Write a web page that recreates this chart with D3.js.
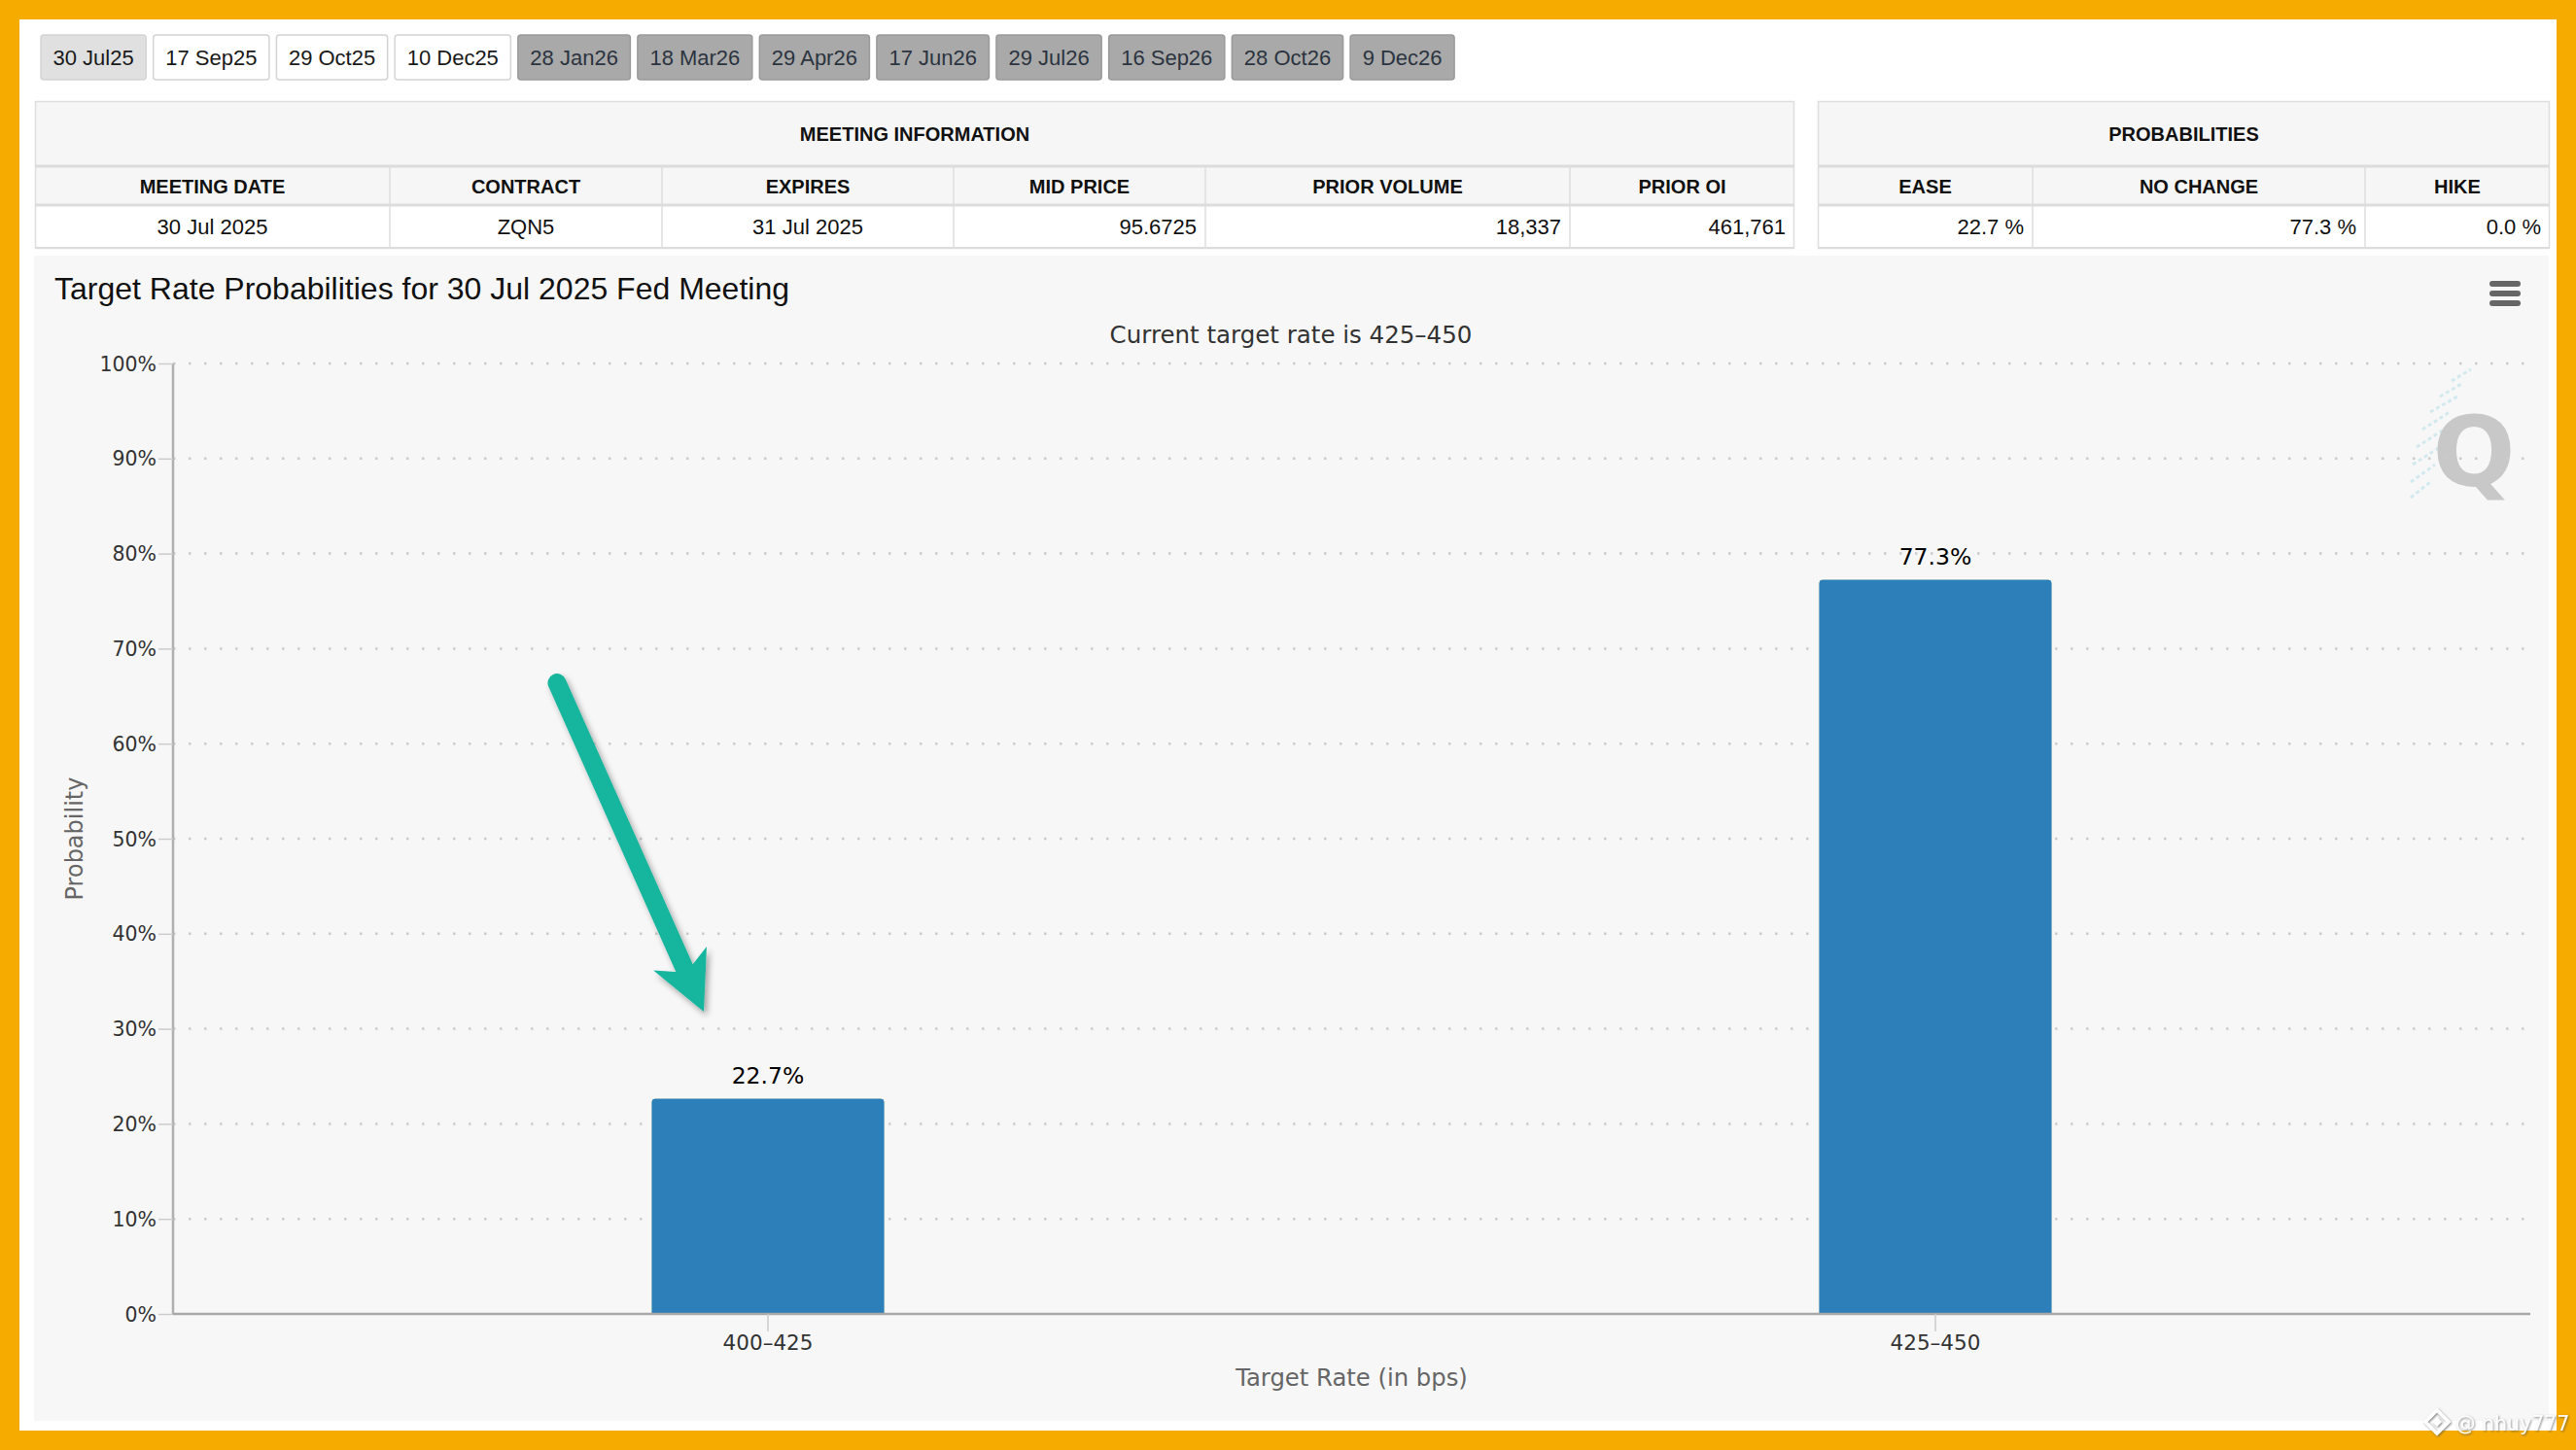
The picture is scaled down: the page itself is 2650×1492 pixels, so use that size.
<!DOCTYPE html>
<html>
<head>
<meta charset="utf-8">
<script src="https://cdn.jsdelivr.net/npm/d3@7/dist/d3.min.js"></script>
<style>
  html, body { margin: 0; padding: 0; background: #f6ab00; }
  svg { display: block; }
</style>
</head>
<body>
<svg id="chart" width="2650" height="1492"></svg>
<script>
// ---------------- DATA ----------------
const meetingDates = ["30 Jul25","17 Sep25","29 Oct25","10 Dec25","28 Jan26","18 Mar26","29 Apr26","17 Jun26","29 Jul26","16 Sep26","28 Oct26","9 Dec26"];
const meetingDateState = ["selected","normal","normal","normal","dim","dim","dim","dim","dim","dim","dim","dim"];
const meetingHeaders = ["MEETING DATE","CONTRACT","EXPIRES","MID PRICE","PRIOR VOLUME","PRIOR OI"];
const meetingValues = ["30 Jul 2025","ZQN5","31 Jul 2025","95.6725","18,337","461,761"];
const meetingAlign = ["middle","middle","middle","end","end","end"];
const probHeaders = ["EASE","NO CHANGE","HIKE"];
const probValues = ["22.7 %","77.3 %","0.0 %"];
const categories = ["400–425","425–450"];
const probabilities = [22.7, 77.3];
const yTickValues = [0,10,20,30,40,50,60,70,80,90,100];
const chartTitle = "Target Rate Probabilities for 30 Jul 2025 Fed Meeting";
const chartSubtitle = "Current target rate is 425–450";
const xAxisTitle = "Target Rate (in bps)";
const yAxisTitle = "Probability";
const watermarkText = "@ nhuy777";

// ---------------- LAYOUT ----------------
const W = 2650, H = 1492;
const svg = d3.select("#chart");
const ARIAL = "'Liberation Sans', Arial, Helvetica, sans-serif";
const LUCIDA = "'DejaVu Sans', Verdana, sans-serif";

const defs = svg.append("defs");
const sh = defs.append("filter").attr("id","shadow").attr("x","-30%").attr("y","-30%").attr("width","160%").attr("height","160%");
sh.append("feDropShadow").attr("dx",3).attr("dy",4).attr("stdDeviation",3).attr("flood-color","#000").attr("flood-opacity",0.35);
const sh2 = defs.append("filter").attr("id","wmshadow");
sh2.append("feDropShadow").attr("dx",1).attr("dy",1).attr("stdDeviation",0.8).attr("flood-color","#444").attr("flood-opacity",0.7);

// page
svg.append("rect").attr("x",0).attr("y",0).attr("width",W).attr("height",H).attr("fill","#f6ab00");
svg.append("rect").attr("x",20).attr("y",20).attr("width",2610).attr("height",1452).attr("fill","#ffffff");

// ---------------- DATE BUTTONS ----------------
const btnG = svg.append("g");
let bx = 42;
const btnY = 36, btnH = 46;
meetingDates.forEach((d,i) => {
  const st = meetingDateState[i];
  const g = btnG.append("g");
  const t = g.append("text").text(d)
    .attr("font-family",ARIAL).attr("font-size",22)
    .attr("fill", st==="dim" ? "#2b3440" : "#1a1a1a")
    .attr("y", btnY + btnH/2 + 8);
  const tw = t.node().getComputedTextLength();
  const bw = tw + 25;
  g.insert("rect","text")
    .attr("x",bx).attr("y",btnY).attr("width",bw).attr("height",btnH).attr("rx",3)
    .attr("fill", st==="selected" ? "#e0e0e0" : (st==="dim" ? "#a9a9a9" : "#ffffff"))
    .attr("stroke", st==="dim" ? "#9a9a9a" : "#d4d4d4").attr("stroke-width",1.5);
  t.attr("x", bx + 12.5);
  bx += bw + 7.5;
});

// ---------------- TABLES ----------------
function drawTable(x0, cols, title, headers, values, aligns){
  const g = svg.append("g");
  const x1 = cols[cols.length-1];
  const yTop = 104, yHead = 171, yData = 211, yBot = 256;
  g.append("rect").attr("x",x0).attr("y",yTop).attr("width",x1-x0).attr("height",yHead-yTop).attr("fill","#f6f6f6");
  g.append("rect").attr("x",x0).attr("y",yHead).attr("width",x1-x0).attr("height",yData-yHead).attr("fill","#f6f6f6");
  g.append("rect").attr("x",x0).attr("y",yData).attr("width",x1-x0).attr("height",yBot-yData).attr("fill","#ffffff");
  g.append("rect").attr("x",x0+0.5).attr("y",yTop+0.5).attr("width",x1-x0-1).attr("height",yBot-yTop-1)
    .attr("fill","none").attr("stroke","#dedede").attr("stroke-width",1.5);
  [yHead, yData].forEach(yy => g.append("line").attr("x1",x0).attr("x2",x1).attr("y1",yy).attr("y2",yy).attr("stroke","#dcdcdc").attr("stroke-width",3));
  g.append("line").attr("x1",x0).attr("x2",x1).attr("y1",yBot-1).attr("y2",yBot-1).attr("stroke","#dcdcdc").attr("stroke-width",2);
  for (let i=1;i<cols.length-1;i++){
    g.append("line").attr("x1",cols[i]).attr("x2",cols[i]).attr("y1",yHead).attr("y2",yBot).attr("stroke","#dedede").attr("stroke-width",1.5);
  }
  g.append("text").text(title).attr("x",(x0+x1)/2).attr("y",145).attr("text-anchor","middle")
    .attr("font-family",ARIAL).attr("font-weight","bold").attr("font-size",20).attr("fill","#111");
  headers.forEach((h,i)=>{
    g.append("text").text(h).attr("x",(cols[i]+cols[i+1])/2).attr("y",199).attr("text-anchor","middle")
      .attr("font-family",ARIAL).attr("font-weight","bold").attr("font-size",20).attr("fill","#111");
  });
  values.forEach((v,i)=>{
    const a = aligns[i];
    const xx = a==="middle" ? (cols[i]+cols[i+1])/2 : cols[i+1]-9;
    g.append("text").text(v).attr("x",xx).attr("y",241).attr("text-anchor",a)
      .attr("font-family",ARIAL).attr("font-size",22).attr("fill","#111");
  });
}
drawTable(36, [36,401,681,981,1240,1615,1846], "MEETING INFORMATION", meetingHeaders, meetingValues, meetingAlign);
drawTable(1870, [1870,2091,2433,2623], "PROBABILITIES", probHeaders, probValues, ["end","end","end"]);

// ---------------- CHART PANEL ----------------
svg.append("rect").attr("x",35).attr("y",263).attr("width",2587).attr("height",1199).attr("fill","#f7f7f7");

svg.append("text").text(chartTitle).attr("x",56).attr("y",308)
  .attr("font-family",ARIAL).attr("font-size",32).attr("fill","#111");
svg.append("text").text(chartSubtitle).attr("x",1328).attr("y",353).attr("text-anchor","middle")
  .attr("font-family",LUCIDA).attr("font-size",24.5).attr("fill","#333");

// menu icon
[289,299,309].forEach(yy => svg.append("rect").attr("x",2561).attr("y",yy).attr("width",32).attr("height",6).attr("rx",3).attr("fill","#666"));

const plot = {left:178, right:2603, top:374, bottom:1352};
const x = d3.scaleBand().domain(categories).range([plot.left, plot.right]).paddingInner(0).paddingOuter(0.0096);
const y = d3.scaleLinear().domain([0,100]).range([plot.bottom, plot.top]);

// watermark Q logo
const wm = svg.append("g");
[[2522,392,2542,380],[2510,408,2534,394],[2500,424,2528,408],[2492,442,2520,424],[2486,460,2514,442],[2482,478,2510,460],[2480,496,2505,478],[2480,512,2500,496]]
  .forEach(p => wm.append("line").attr("x1",p[0]).attr("y1",p[1]).attr("x2",p[2]).attr("y2",p[3])
    .attr("stroke","#d3e9f0").attr("stroke-width",3).attr("stroke-dasharray","4,3"));
wm.append("text").text("Q").attr("x",2545).attr("y",500).attr("text-anchor","middle")
  .attr("font-family",LUCIDA).attr("font-weight","bold").attr("font-size",100).attr("fill","#c8c8c8");

// gridlines
const grid = svg.append("g");
grid.selectAll("line").data(yTickValues.filter(v=>v>0)).join("line")
  .attr("x1",plot.left).attr("x2",plot.right)
  .attr("y1",d=>y(d)).attr("y2",d=>y(d))
  .attr("stroke","#cbcbcb").attr("stroke-width",2.5).attr("stroke-dasharray","2.5,13.5");

// y axis
const yAxis = d3.axisLeft(y).tickValues(yTickValues).tickFormat(d=>d+"%").tickSize(15).tickPadding(2);
const yg = svg.append("g").attr("transform",`translate(${plot.left},0)`).call(yAxis);
yg.select(".domain").attr("stroke","#b0b0b0").attr("stroke-width",2.5).attr("d",`M0,${plot.top}V${plot.bottom}`);
yg.selectAll(".tick line").attr("stroke","#cccccc").attr("stroke-width",1.5);
yg.selectAll(".tick text").attr("font-family",LUCIDA).attr("font-size",20.5).attr("fill","#333").attr("dy","0.35em");

// bars
const bw = x.bandwidth()*0.2;
svg.append("g").selectAll("path").data(probabilities).join("path")
  .attr("d",(d,i)=>{
    const x0 = x(categories[i]) + x.bandwidth()/2 - bw/2, x1 = x0 + bw;
    const y0 = y(d), yb = y(0), r = 4;
    return `M${x0},${yb}V${y0+r}Q${x0},${y0} ${x0+r},${y0}H${x1-r}Q${x1},${y0} ${x1},${y0+r}V${yb}Z`;
  })
  .attr("fill","#2c7fb8").attr("stroke","#fffbe8").attr("stroke-width",1);

// data labels
svg.append("g").selectAll("text").data(probabilities).join("text")
  .text(d=>d.toFixed(1)+"%")
  .attr("x",(d,i)=>x(categories[i])+x.bandwidth()/2)
  .attr("y",d=>y(d)-15)
  .attr("text-anchor","middle")
  .attr("font-family",LUCIDA).attr("font-size",23.5).attr("fill","#000");

// x axis
const xAxis = d3.axisBottom(x).tickSize(18).tickPadding(4);
const xg = svg.append("g").attr("transform",`translate(0,${plot.bottom})`).call(xAxis);
xg.select(".domain").attr("stroke","#a8a8a8").attr("stroke-width",2.5).attr("d",`M${plot.left},0H${plot.right}`);
xg.selectAll(".tick line").attr("stroke","#cccccc").attr("stroke-width",1.5);
xg.selectAll(".tick text").attr("font-family",LUCIDA).attr("font-size",21.5).attr("fill","#333");

// axis titles
svg.append("text").text(xAxisTitle).attr("x",(plot.left+plot.right)/2).attr("y",1426).attr("text-anchor","middle")
  .attr("font-family",LUCIDA).attr("font-size",24.3).attr("fill","#666");
svg.append("text").text(yAxisTitle).attr("transform",`translate(85,${(plot.top+plot.bottom)/2}) rotate(-90)`)
  .attr("text-anchor","middle").attr("font-family",LUCIDA).attr("font-size",24).attr("fill","#666");

// annotation arrow pointing at the first bar
(function(){
  const xc = x(categories[0]) + x.bandwidth()/2;
  const tip = [xc - 66, y(31.8)];
  const tail = [xc - 217, y(66.4)];
  const dx = tip[0]-tail[0], dy = tip[1]-tail[1], L = Math.hypot(dx,dy);
  const u = [dx/L, dy/L], p = [-u[1], u[0]];
  const notch = [tip[0]-44*u[0], tip[1]-44*u[1]];
  const wA = [tip[0]-60*u[0]+30*p[0], tip[1]-60*u[1]+30*p[1]];
  const wB = [tip[0]-60*u[0]-30*p[0], tip[1]-60*u[1]-30*p[1]];
  const g = svg.append("g").attr("filter","url(#shadow)");
  g.append("line").attr("x1",tail[0]).attr("y1",tail[1]).attr("x2",notch[0]+4*u[0]).attr("y2",notch[1]+4*u[1])
    .attr("stroke","#17b59d").attr("stroke-width",19).attr("stroke-linecap","round");
  g.append("path").attr("d",`M${tip[0]},${tip[1]}L${wA[0]},${wA[1]}L${notch[0]},${notch[1]}L${wB[0]},${wB[1]}Z`)
    .attr("fill","#17b59d");
})();

// bottom-right watermark
const wmk = svg.append("g").attr("filter","url(#wmshadow)");
const lx = 2507, ly = 1463;
wmk.append("path").attr("d",`M${lx},${ly-12}L${lx+12},${ly}L${lx},${ly+12}L${lx-12},${ly}Z`).attr("fill","none").attr("stroke","#ffffff").attr("stroke-width",3.5);
wmk.append("rect").attr("x",lx-3.5).attr("y",ly-3.5).attr("width",7).attr("height",7).attr("transform",`rotate(45,${lx},${ly})`).attr("fill","#ffffff");
wmk.append("text").text(watermarkText).attr("x",2526).attr("y",1472)
  .attr("font-family",LUCIDA).attr("font-size",20.5).attr("fill","#ffffff").attr("fill-opacity",0.92);
</script>
</body>
</html>
